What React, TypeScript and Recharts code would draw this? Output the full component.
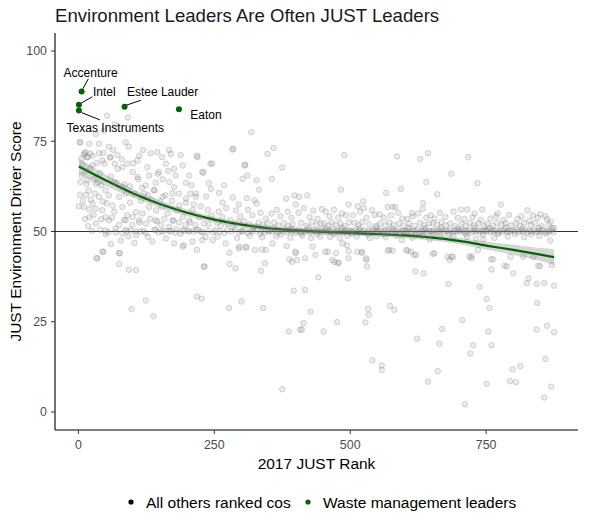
import React from "react";
import { ComposedChart, Scatter, Line, Area, XAxis, YAxis, ReferenceLine } from "recharts";

// loess fit
const fitRanks = [1, 50, 100, 150, 200, 250, 300, 350, 400, 450, 500, 550, 600, 650, 700, 750, 800, 850, 875];
const fitScores = [68, 64.2, 60.6, 57.6, 55.2, 53.3, 51.9, 50.9, 50.3, 49.9, 49.6, 49.3, 48.9, 48.3, 47.4, 46.1, 44.9, 43.6, 42.9];
const bandLow = [65.8, 62.6, 59.4, 56.6, 54.3, 52.5, 51.15, 50.2, 49.6, 49.2, 48.9, 48.6, 48.15, 47.5, 46.5, 45.0, 43.5, 41.8, 40.7];
const bandHigh = [70.2, 65.8, 61.8, 58.6, 56.1, 54.1, 52.65, 51.6, 51.0, 50.6, 50.3, 50.0, 49.65, 49.1, 48.3, 47.2, 46.3, 45.4, 45.1];

const leaderNames = ["Accenture", "Intel", "Texas Instruments", "Estee Lauder", "Eaton"];
const leaderRanks = [6, 1, 1, 85, 185];
const leaderScores = [88.8, 85.1, 83.5, 84.6, 83.9];

const xTicks = [0, 250, 500, 750];
const yTicks = [0, 25, 50, 75, 100];

// [rank, score] for all other ranked companies
const otherPoints: [number, number][] = [
  [2,74.7],[4,74.7],[12,71.7],[10,71.3],[16,70.6],[20,74.3],[26,71],[32,77],[38,74.3],[38,71.7],[47,77.9],[53,82.1],[6,65.5],[4,63.7],[19,61.4],[30,60.5],[23,58.8],[38,59.6],[50,61.4],[10,56.8],[20,56.1],[32,56.3],[44,55.9],[50,54],[32,52.2],[50,49.3],[44,44.4],[35,42.6],[33,42.6],[46,44.4],
  [8,68.5],[14,66.8],[3,60.2],[8,58.5],[15,63.2],[22,67.5],[28,64.5],[34,69],[40,66.2],[42,62.8],[45,58.3],[48,68.8],[12,53.5],[18,51.5],[25,50.2],[40,50.5],[28,54.6],[6,70.2],[36,63.6],[46,71.8],[1,57],[14,60.1],[26,57.7],[42,53.4],[22,71.6],
  [13,72],[17,70.6],[26,68.3],[44,69.7],[59,70.6],[72,67.4],[90,68.8],[16,64.2],[32,63.2],[66,63.7],[81,62.3],[20,54],[56,53.1],[87,53.1],
  [56,73.5],[64,72.6],[67,79.6],[87,74.7],[93,73.5],[91,81.6],[67,68.8],[81,67.8],[56,60],[75,59.6],[87,60.5],[63,57.2],[81,56.8],[75,51.8],[99,51.8],[81,49.5],[75,44],[75,41],[93,39.4],[76,44],[98,28.5],[100,66.5],[60,65.2],[70,63.5],[58,70.5],[85,63],[95,58],[90,54.5],[62,53.8],[68,50.8],[88,50],[96,50.3],[55,49.8],[72,71.2],[80,70],[95,62.5],[52,57.8],[66,55.5],[84,53.2],[78,47.5],[92,48.6],[60,46.5],
  [50,50.3],[69,49.8],[87,50.5],[106,50],[124,49.6],[142,50.4],[154,50],[167,50.2],[179,49.7],[191,50.3],[204,50],[216,50.5],[228,49.8],
  [109,65.1],[127,67.8],[146,66],[161,68.8],[176,67.4],[121,60.5],[139,61.4],[155,59.6],[173,60.5],[198,59.1],[216,60.5],[112,53.1],[142,53.1],[173,53.1],[204,53.1],
  [101,68.9],[109,69.7],[119,72.6],[133,71.7],[145,72],[117,62.1],[124,62.8],[130,65.5],[148,66.5],[106,55.4],[118,55],[100,54],[130,56.8],[143,55.9],[124,52.2],[106,49],[136,47.2],[106,39.3],[124,30.9],[138,26.5],[110,64.5],[115,58.5],[128,60],[140,61.5],[135,58.8],[103,60.5],[112,52.5],[132,53.5],[145,52.8],[120,50.2],[140,50.5],[148,49.8],[114,50],[128,48.5],[103,46.8],[142,63.5],[150,58.4],[112,71],
  [154,70.6],[167,72.6],[170,71.5],[188,71.2],[167,63.7],[179,65.5],[192,68.3],[176,62.3],[154,56.8],[164,55],[182,55.9],[192,54],[152,51.8],[167,51.3],[197,51.8],[161,48.1],[176,46.7],[192,45.8],[194,46.2],[160,60],[172,58.5],[185,60.5],[198,58],[158,53.5],[175,53],[185,52.5],[195,50.3],[170,50],[180,50.6],[158,50.2],[188,49.4],[165,66.8],[198,63.5],[155,64.5],[186,57.2],
  [204,65.5],[219,70.6],[228,66.5],[218,71],[243,68.8],[240,63.4],[210,55.9],[222,54],[231,52.2],[210,47.2],[234,48.5],[228,47.6],[247,47.6],[218,44.9],[232,40.3],[231,40.3],[218,32],[227,31.4],[216,59.6],[235,59.7],[246,68.8],[230,66.3],[206,60.5],[212,57.5],[225,57],[238,56],[245,54.5],[205,52.5],[215,51.8],[240,52],[202,50.2],[212,50],[220,50.5],[238,50.2],[248,49.8],[225,50],[244,61.8],[208,62.8],
  [268,62.8],[259,60.7],[284,59.4],[283,72.7],[285,72.9],[271,46.7],[296,45.8],[278,44.1],[295,45.3],[289,39.8],[277,28.8],[300,30.6],[278,41],[258,55.5],[265,54],[272,56.5],[280,53.2],[290,55.8],[298,54.2],[255,52.5],[262,51.5],[275,52],[285,51.2],[294,52.6],[252,50.3],[260,50],[268,49.6],[274,50.4],[282,50],[288,50.6],[296,49.8],[300,50.2],[256,48.6],[292,48.2],[265,58],[295,57.5],
  [318,77.5],[307,68.5],[302,64.6],[311,65.5],[328,64.2],[332,61.6],[324,58.6],[348,71.5],[306,68.3],[309,45.5],[325,44.9],[338,45],[336,39.1],[343,41.2],[340,28.8],[308,45.8],[345,44.9],[312,56],[320,54.5],[335,55.2],[345,53.6],[305,52.8],[315,52],[325,51.4],[332,52.5],[340,51.8],[348,52.2],[302,50],[306,50.5],[312,49.6],[318,50.2],[322,50],[330,50.6],[336,50],[342,49.8],[346,50.4],[350,50],[315,48.8],[338,48.4],[328,57.8],[310,59.2],
  [359,73.1],[375,67.7],[356,64.6],[382,59.1],[400,57.5],[397,60],[357,46.7],[400,44],[388,42.3],[375,6.3],[387,22.3],[396,33.6],[393,41.6],[399,44.4],[383,46],[408,22.8],[365,56],[372,54.2],[385,55.5],[392,53.8],[360,52.5],[368,51.7],[378,52.3],[386,51.5],[394,52],[352,50.2],[356,50],[362,50.5],[366,49.7],[370,50.2],[376,50],[380,50.6],[384,49.8],[388,50.3],[392,50],[396,50.5],[398,49.6],[364,48.7],[390,48.3],[355,55],
  [406,59.6],[421,60],[402,42.1],[417,42.6],[417,33.8],[427,27.8],[414,24.6],[411,22.8],[441,37.3],[436,43.5],[431,45.8],[405,55.2],[415,56.5],[425,54],[432,55.8],[440,53.5],[448,56.2],[410,52.4],[420,51.6],[430,52.7],[438,51.8],[446,52.2],[402,50],[405,50.6],[409,49.8],[413,50.2],[418,50],[422,50.4],[426,49.7],[430,50.1],[434,50.5],[437,49.9],[441,50.2],[444,50],[448,50.6],[412,48.8],[428,48.2],[445,48.6],
  [489,71.2],[483,61.6],[454,44.4],[451,22.3],[476,24.9],[467,42.1],[479,41.4],[494,46.2],[497,44.6],[497,42.6],[496,37],[459,44.4],[474,44],[486,46.7],[471,41.6],[477,41.2],[497,57.5],[455,55.5],[462,54.2],[470,56],[478,53.8],[485,55],[492,54.5],[452,52.3],[460,51.6],[466,52.5],[474,51.8],[482,52.2],[490,51.5],[498,52.6],[451,50],[454,50.4],[458,49.8],[461,50.2],[465,50],[468,50.6],[472,49.7],[476,50.2],[479,50],[483,50.5],[487,49.8],[490,50.2],[494,50],[497,50.4],[500,49.8],[463,48.5],[481,48.2],[495,48.8],
  [514,57],[524,58.4],[540,55.9],[513,44.4],[522,44.4],[530,42.1],[531,40.3],[533,28.6],[534,26.9],[528,24.8],[541,14.3],[521,44.1],[529,42.6],[505,54.5],[518,55.5],[530,53.8],[545,54.6],[508,52.4],[515,51.8],[522,52.6],[535,52],[548,51.6],[502,50.2],[506,50],[510,50.5],[514,49.8],[518,50.2],[522,50],[526,50.4],[530,49.7],[534,50.2],[538,50],[542,50.5],[546,49.9],[550,50.2],[512,48.6],[536,48.2],[548,48.7],[525,56.5],
  [586,70.8],[566,60.7],[593,61.8],[554,54.8],[569,56.8],[578,56.8],[583,56.8],[572,44.9],[569,44.7],[578,44.7],[558,12.9],[558,11.6],[573,29.4],[581,28.3],[562,53.8],[575,54.5],[588,55.2],[596,53.6],[555,52.2],[565,51.7],[572,52.5],[580,51.8],[590,52.3],[598,51.6],[552,50],[556,50.4],[560,49.8],[564,50.2],[568,50],[572,50.5],[576,49.7],[580,50.2],[584,50],[588,50.5],[592,49.8],[596,50.2],[600,50],[565,48.5],[585,48.8],[595,47.6],
  [629,70.1],[643,71.7],[640,63.7],[614,55.1],[634,57.9],[633,56.2],[603,44.9],[618,43.5],[606,44.7],[612,44.4],[621,43.5],[620,38.9],[635,38.4],[623,20.3],[643,8.4],[605,53.5],[615,54.2],[625,55],[640,53.8],[648,54.5],[608,52.2],[618,51.6],[628,52.4],[636,51.8],[645,52.2],[602,50.2],[605,50],[609,50.5],[612,49.8],[616,50.2],[620,50],[624,50.6],[627,49.7],[631,50.2],[634,50],[638,50.4],[641,49.8],[645,50.2],[648,50],[614,48.3],[632,48.8],[646,47.8],
  [660,60.3],[686,66],[652,43.8],[686,43],[655,44],[683,42.1],[689,43],[681,35.5],[661,11.3],[664,18.9],[669,23],[679,43],[655,53.6],[665,55.2],[675,54],[690,55.5],[698,53.8],[652,52.3],[660,51.8],[668,52.6],[676,51.7],[684,52.2],[693,51.5],[651,50],[654,50.4],[658,49.8],[662,50.2],[665,50],[669,50.5],[672,49.8],[676,50.2],[680,50],[684,50.4],[688,49.7],[692,50.2],[696,50],[700,50.4],[666,48.4],[690,48.7],
  [717,70.6],[734,63.4],[704,56.1],[715,56.1],[743,56.1],[729,55],[723,43.2],[735,44.9],[719,43],[706,25.4],[711,2.1],[721,16.2],[726,18.5],[723,42.6],[738,34.7],[710,53.5],[725,54],[740,53.2],[705,52.2],[712,51.6],[720,52.4],[728,51.8],[736,52.3],[746,51.5],[702,50],[705,50.5],[709,49.8],[712,50.2],[716,50],[720,50.5],[724,49.7],[727,50.2],[731,50],[735,50.4],[738,49.8],[742,50.2],[746,50],[749,50.5],[715,48.5],[732,48],[745,47.8],
  [777,57.5],[771,55],[751,31.3],[756,28.8],[754,22.3],[760,18.5],[751,7.8],[760,39.5],[763,42.3],[759,42.3],[784,40.5],[788,40.3],[800,38.4],[795,43],[799,11.8],[794,8.5],[758,53.6],[768,54.2],[782,53.2],[792,54.6],[752,52.2],[762,51.6],[770,52.4],[778,51.8],[786,52.3],[796,51.7],[751,50],[754,50.5],[758,49.8],[762,50.2],[765,50],[769,50.4],[773,49.7],[776,50.2],[780,50],[784,50.5],[788,49.8],[791,50.2],[795,50],[799,50.4],[765,48.2],[790,48.6],
  [826,55.9],[836,54.5],[850,54.8],[859,54.2],[869,52.7],[818,43],[846,40.5],[813,12.7],[805,8.3],[825,35.7],[843,35.5],[857,35.7],[828,37],[875,35],[844,30.2],[843,22.8],[862,23.9],[875,22.1],[859,14.7],[870,7],[857,4],[849,40.4],[871,40.7],[837,43],[808,53.5],[815,54.2],[830,53],[845,53.8],[862,53.4],[805,52.2],[812,51.6],[820,52.4],[832,51.8],[840,52.3],[852,51.5],[865,52],[802,50],[806,50.5],[810,49.8],[814,50.2],[818,50],[822,50.5],[826,49.7],[830,50.2],[834,50],[838,50.4],[842,49.8],[846,50.2],[850,50],[854,50.5],[858,49.8],[862,50.2],[866,50],[870,50.4],[874,49.8],[820,48.4],[848,48.8],[868,47.5],[875,51],
  [320,50.9],[334,49.3],[358,51],[372,49.2],[391,50.8],[410,49.4],[424,51.1],[439,49.3],[456,50.9],[470,49.2],[485,51],[503,49.4],[517,50.9],[532,49.2],[547,51.1],[561,49.3],[577,50.8],[591,49.4],[607,51],[622,49.2],[637,50.9],[653,49.3],[667,51.1],[682,49.4],[698,50.8],[713,49.3],[729,51],[744,49.2],[757,50.9],[772,49.4],[787,51.1],[803,49.3],[817,50.8],[833,49.2],[847,51],[861,49.4],[872,50.9],
];

const FONT = "'Liberation Sans', Arial, sans-serif";
const GREEN = "#006400";

// pixel offsets of each leader label from its point
const labelLayout: Record<string, { dx: number; dy: number; anchor: string; seg?: number[] }> = {
  Accenture: { dx: 9, dy: -14.2, anchor: "middle", seg: [6.7, -12.7, 1.2, -2.7] },
  Intel: { dx: 14, dy: -9, anchor: "start", seg: [2.4, -1.7, 13.4, -8] },
  "Texas Instruments": { dx: -12.3, dy: 21, anchor: "start", seg: [2.7, 2, 21, 9.3] },
  "Estee Lauder": { dx: 2.3, dy: -10.4, anchor: "start", seg: [1.3, -1.3, 16.3, -6.3] },
  Eaton: { dx: 11.3, dy: 9.7, anchor: "start" },
};

const fitData = fitRanks.map((r, i) => ({ rank: r, fit: fitScores[i], band: [bandLow[i], bandHigh[i]] }));
const others = otherPoints.map(([rank, score]) => ({ rank, score }));
const leaders = leaderNames.map((name, i) => ({ name, rank: leaderRanks[i], score: leaderScores[i] }));

const GreyDot = (props: any) => (
  <circle cx={props.cx} cy={props.cy} r={2.8} fill="#8a8a8a" fillOpacity={0.17} stroke="#6a6a6a" strokeOpacity={0.3} strokeWidth={0.8} />
);

const LeaderDot = (props: any) => {
  const { cx, cy, payload } = props;
  const l = labelLayout[payload.name];
  return (
    <g>
      {l.seg && (
        <line x1={cx + l.seg[0]} y1={cy + l.seg[1]} x2={cx + l.seg[2]} y2={cy + l.seg[3]} stroke="#000" strokeWidth={1} />
      )}
      <circle cx={cx} cy={cy} r={3} fill={GREEN} />
      <text x={cx + l.dx} y={cy + l.dy} textAnchor={l.anchor} fontSize={12} fontFamily={FONT} fill="#000">
        {payload.name}
      </text>
    </g>
  );
};

const YTitle = (props: any) => {
  const { viewBox } = props;
  const x = viewBox.x + 16;
  const y = viewBox.y + viewBox.height / 2;
  return (
    <text x={x} y={y} transform={`rotate(-90 ${x} ${y})`} textAnchor="middle" fontSize={15.5} fontFamily={FONT} fill="#000">
      JUST Environment Driver Score
    </text>
  );
};

const XTitle = (props: any) => {
  const { viewBox } = props;
  return (
    <text x={viewBox.x + viewBox.width / 2} y={viewBox.y + 39} textAnchor="middle" fontSize={15.5} fontFamily={FONT} fill="#000">
      2017 JUST Rank
    </text>
  );
};

export default function App() {
  return (
    <div style={{ position: "absolute", left: 0, top: 0, width: 593, height: 522, background: "#fff" }}>
      <ComposedChart width={593} height={522} data={fitData} margin={{ top: 33, right: 15, bottom: 47, left: 5 }}>
        <XAxis
          type="number"
          dataKey="rank"
          domain={[-43, 919]}
          ticks={xTicks}
          allowDataOverflow
          height={45}
          tickSize={4}
          tickMargin={6}
          axisLine={{ stroke: "#000", strokeWidth: 1.1 }}
          tickLine={{ stroke: "#333" }}
          tick={{ fill: "#4d4d4d", fontSize: 12.4, fontFamily: FONT }}
          label={<XTitle />}
        />
        <YAxis
          type="number"
          domain={[-5, 105]}
          ticks={yTicks}
          allowDataOverflow
          width={50}
          tickSize={4}
          tickMargin={4}
          axisLine={{ stroke: "#000", strokeWidth: 1.1 }}
          tickLine={{ stroke: "#333" }}
          tick={{ fill: "#4d4d4d", fontSize: 12.4, fontFamily: FONT }}
          label={<YTitle />}
        />
        <Scatter data={others} dataKey="score" shape={GreyDot} isAnimationActive={false} />
        <ReferenceLine y={50} stroke="#333" strokeWidth={1.1} />
        <Area dataKey="band" type="monotone" fill="#999" fillOpacity={0.4} stroke="none" isAnimationActive={false} />
        <Line dataKey="fit" type="monotone" stroke={GREEN} strokeWidth={2.2} dot={false} isAnimationActive={false} />
        <Scatter data={leaders} dataKey="score" shape={LeaderDot} isAnimationActive={false} />
      </ComposedChart>
      <svg width={593} height={522} style={{ position: "absolute", left: 0, top: 0, pointerEvents: "none" }}>
        <text x={55} y={22} fontSize={18.6} fontFamily={FONT} fill="#1a1a1a">
          Environment Leaders Are Often JUST Leaders
        </text>
        <circle cx={131} cy={502} r={2.6} fill="#000" />
        <text x={146} y={507.5} fontSize={15.5} fontFamily={FONT} fill="#000">All others ranked cos</text>
        <circle cx={308} cy={502} r={2.6} fill={GREEN} />
        <text x={323} y={507.5} fontSize={15.5} fontFamily={FONT} fill="#000">Waste management leaders</text>
      </svg>
    </div>
  );
}
